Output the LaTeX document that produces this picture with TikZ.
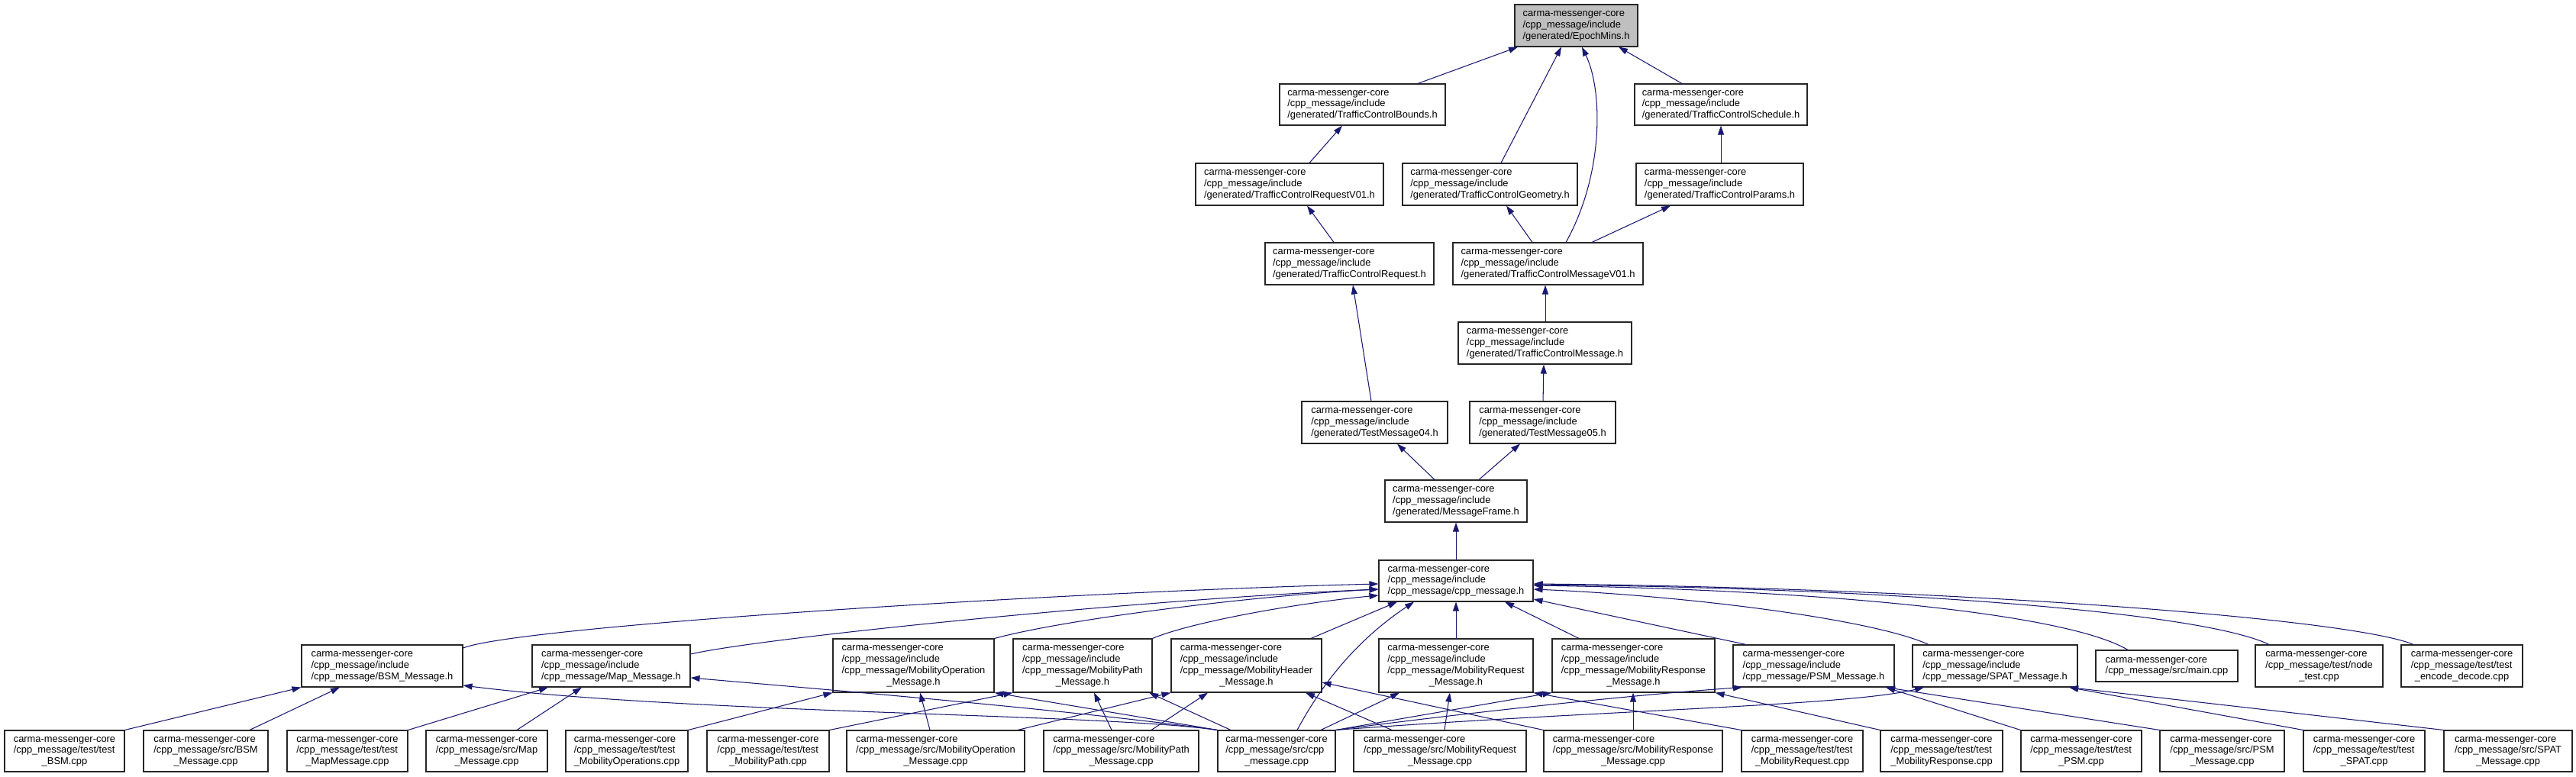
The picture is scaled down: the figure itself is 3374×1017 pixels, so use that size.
\documentclass[tikz,border=0pt]{standalone}
\usepackage{fontspec}
\setmainfont{Liberation Sans}
\usetikzlibrary{arrows.meta}
\definecolor{edgeblue}{HTML}{191970}
\definecolor{epfill}{HTML}{BFBFBF}
\newcommand{\cmc}{carma-messenger-core}
\newcommand{\Lthree}[3]{\begin{tabular}{@{}l@{}}#1\\#2\\\multicolumn{1}{@{}c@{}}{#3}\end{tabular}}
\newcommand{\Lfour}[4]{\begin{tabular}{@{}l@{}}#1\\#2\\#3\\\multicolumn{1}{@{}c@{}}{#4}\end{tabular}}
\newcommand{\Ltwo}[2]{\begin{tabular}{@{}l@{}}#1\\#2\end{tabular}}
\newcommand{\bx}[7][]{\node[box,#1,minimum width={#4-#3},minimum height={#6-#5}] (#2) at ({(#3+#4)/2},{(#5+#6)/2}) {#7};}
\begin{document}
\begin{tikzpicture}[x=1pt,y=-1pt,
  box/.style={draw=black!85,line width=1.1pt,inner sep=0pt,fill=white,
    font=\fontsize{12.9}{14.7}\selectfont},
  edge/.style={draw=edgeblue,line width=1.05pt,arrows={Triangle[length=12pt,width=8pt]-}}]
\useasboundingbox[fill=white] (0,0) rectangle (3374,1017);
% top part
\bx[fill=epfill]{ep}{1984}{2145}{6}{61}{\Lthree{\cmc}{/cpp\_message/include}{/generated/EpochMins.h}}
\bx{bounds}{1676}{1893}{110}{164}{\Lthree{\cmc}{/cpp\_message/include}{/generated/TrafficControlBounds.h}}
\bx{sched}{2141}{2367}{110}{164}{\Lthree{\cmc}{/cpp\_message/include}{/generated/TrafficControlSchedule.h}}
\bx{reqv01}{1566}{1812}{214}{269}{\Lthree{\cmc}{/cpp\_message/include}{/generated/TrafficControlRequestV01.h}}
\bx{geom}{1837}{2066}{214}{269}{\Lthree{\cmc}{/cpp\_message/include}{/generated/TrafficControlGeometry.h}}
\bx{params}{2143}{2362}{214}{269}{\Lthree{\cmc}{/cpp\_message/include}{/generated/TrafficControlParams.h}}
\bx{req}{1657}{1878}{318}{373}{\Lthree{\cmc}{/cpp\_message/include}{/generated/TrafficControlRequest.h}}
\bx{msgv01}{1903}{2152}{318}{373}{\Lthree{\cmc}{/cpp\_message/include}{/generated/TrafficControlMessageV01.h}}
\bx{tcmsg}{1910}{2137}{422}{477}{\Lthree{\cmc}{/cpp\_message/include}{/generated/TrafficControlMessage.h}}
\bx{tm04}{1705}{1896}{526}{581}{\Lthree{\cmc}{/cpp\_message/include}{/generated/TestMessage04.h}}
\bx{tm05}{1925}{2116}{526}{581}{\Lthree{\cmc}{/cpp\_message/include}{/generated/TestMessage05.h}}
\bx{frame}{1814}{2000}{629}{684}{\Lthree{\cmc}{/cpp\_message/include}{/generated/MessageFrame.h}}
\bx{cpph}{1806}{2008}{734}{788}{\Lthree{\cmc}{/cpp\_message/include}{/cpp\_message/cpp\_message.h}}
% headers row
\bx{bsm}{395}{606}{845}{900}{\Lthree{\cmc}{/cpp\_message/include}{/cpp\_message/BSM\_Message.h}}
\bx{map}{697}{904}{845}{900}{\Lthree{\cmc}{/cpp\_message/include}{/cpp\_message/Map\_Message.h}}
\bx{mop}{1091}{1302}{837}{907}{\Lfour{\cmc}{/cpp\_message/include}{/cpp\_message/MobilityOperation}{\_Message.h}}
\bx{mpath}{1327}{1509}{837}{907}{\Lfour{\cmc}{/cpp\_message/include}{/cpp\_message/MobilityPath}{\_Message.h}}
\bx{mhead}{1534}{1731}{837}{907}{\Lfour{\cmc}{/cpp\_message/include}{/cpp\_message/MobilityHeader}{\_Message.h}}
\bx{mreq}{1806}{2008}{837}{907}{\Lfour{\cmc}{/cpp\_message/include}{/cpp\_message/MobilityRequest}{\_Message.h}}
\bx{mresp}{2033}{2246}{837}{907}{\Lfour{\cmc}{/cpp\_message/include}{/cpp\_message/MobilityResponse}{\_Message.h}}
\bx{psm}{2270}{2481}{845}{900}{\Lthree{\cmc}{/cpp\_message/include}{/cpp\_message/PSM\_Message.h}}
\bx{spat}{2505}{2721}{845}{900}{\Lthree{\cmc}{/cpp\_message/include}{/cpp\_message/SPAT\_Message.h}}
\bx{main}{2745}{2931}{852}{893}{\Ltwo{\cmc}{/cpp\_message/src/main.cpp}}
\bx{nodet}{2954}{3121}{845}{900}{\Lthree{\cmc}{/cpp\_message/test/node}{\_test.cpp}}
\bx{encdec}{3145}{3304}{845}{900}{\Lthree{\cmc}{/cpp\_message/test/test}{\_encode\_decode.cpp}}
% bottom row
\bx{tbsm}{6}{163}{957}{1011}{\Lthree{\cmc}{/cpp\_message/test/test}{\_BSM.cpp}}
\bx{sbsm}{188}{351}{957}{1011}{\Lthree{\cmc}{/cpp\_message/src/BSM}{\_Message.cpp}}
\bx{tmap}{376}{534}{957}{1011}{\Lthree{\cmc}{/cpp\_message/test/test}{\_MapMessage.cpp}}
\bx{smap}{558}{717}{957}{1011}{\Lthree{\cmc}{/cpp\_message/src/Map}{\_Message.cpp}}
\bx{tmop}{741}{901}{957}{1011}{\Lthree{\cmc}{/cpp\_message/test/test}{\_MobilityOperations.cpp}}
\bx{tmpath}{926}{1086}{957}{1011}{\Lthree{\cmc}{/cpp\_message/test/test}{\_MobilityPath.cpp}}
\bx{smop}{1109}{1342}{957}{1011}{\Lthree{\cmc}{/cpp\_message/src/MobilityOperation}{\_Message.cpp}}
\bx{smpath}{1367}{1570}{957}{1011}{\Lthree{\cmc}{/cpp\_message/src/MobilityPath}{\_Message.cpp}}
\bx{scpp}{1595}{1749}{957}{1011}{\Lthree{\cmc}{/cpp\_message/src/cpp}{\_message.cpp}}
\bx{smreq}{1773}{1999}{957}{1011}{\Lthree{\cmc}{/cpp\_message/src/MobilityRequest}{\_Message.cpp}}
\bx{smresp}{2022}{2256}{957}{1011}{\Lthree{\cmc}{/cpp\_message/src/MobilityResponse}{\_Message.cpp}}
\bx{tmreq}{2281}{2440}{957}{1011}{\Lthree{\cmc}{/cpp\_message/test/test}{\_MobilityRequest.cpp}}
\bx{tmresp}{2463}{2623}{957}{1011}{\Lthree{\cmc}{/cpp\_message/test/test}{\_MobilityResponse.cpp}}
\bx{tpsm}{2647}{2805}{957}{1011}{\Lthree{\cmc}{/cpp\_message/test/test}{\_PSM.cpp}}
\bx{spsm}{2829}{2992}{957}{1011}{\Lthree{\cmc}{/cpp\_message/src/PSM}{\_Message.cpp}}
\bx{tspat}{3017}{3176}{957}{1011}{\Lthree{\cmc}{/cpp\_message/test/test}{\_SPAT.cpp}}
\bx{sspat}{3201}{3369}{957}{1011}{\Lthree{\cmc}{/cpp\_message/src/SPAT}{\_Message.cpp}}
% edges: top
\draw[edge] (1988,0 |- ep.south) -- (1857,0 |- bounds.north);
\draw[edge] (2045,0 |- ep.south) -- (1966,0 |- geom.north);
\draw[edge] (2072,0 |- ep.south) .. controls (2100,120) and (2100,230) .. (2051,0 |- msgv01.north);
\draw[edge] (2120,0 |- ep.south) -- (2203,0 |- sched.north);
\draw[edge] (1758,0 |- bounds.south) -- (1715,0 |- reqv01.north);
\draw[edge] (2254,0 |- sched.south) -- (2254,0 |- params.north);
\draw[edge] (1712,0 |- reqv01.south) -- (1747,0 |- req.north);
\draw[edge] (1973,0 |- geom.south) -- (2007,0 |- msgv01.north);
\draw[edge] (2188,0 |- params.south) -- (2085,0 |- msgv01.north);
\draw[edge] (1772,0 |- req.south) -- (1796,0 |- tm04.north);
\draw[edge] (2024,0 |- msgv01.south) -- (2024,0 |- tcmsg.north);
\draw[edge] (2022,0 |- tcmsg.south) -- (2021,0 |- tm05.north);
\draw[edge] (1830,0 |- tm04.south) -- (1879,0 |- frame.north);
\draw[edge] (1991,0 |- tm05.south) -- (1937,0 |- frame.north);
\draw[edge] (frame.south) -- (cpph.north);
% edges into cpp_message.h
\draw[edge] (cpph.west |- 0,765) .. controls (1400,775) and (680,820) .. (bsm.east |- 0,849);
\draw[edge] (cpph.west |- 0,772) .. controls (1500,785) and (1000,835) .. (map.east |- 0,857);
\draw[edge] (cpph.west |- 0,772) .. controls (1650,780) and (1400,810) .. (mop.north east);
\draw[edge] (cpph.west |- 0,780) .. controls (1700,790) and (1560,815) .. (mpath.north east);
\draw[edge] (1830,0 |- cpph.south) -- (1717,0 |- mhead.north);
\draw[edge] (1852,0 |- cpph.south) .. controls (1790,830) and (1740,880) .. (1699,0 |- scpp.north);
\draw[edge] (cpph.south) -- (mreq.north);
\draw[edge] (1971,0 |- cpph.south) -- (2068,0 |- mresp.north);
\draw[edge] (cpph.east |- 0,785) -- (2287,0 |- psm.north);
\draw[edge] (cpph.east |- 0,772) .. controls (2200,780) and (2450,810) .. (2526,0 |- spat.north);
\draw[edge] (cpph.east |- 0,767) .. controls (2350,772) and (2700,800) .. (2787,0 |- main.north);
\draw[edge] (cpph.east |- 0,766) .. controls (2450,770) and (2880,800) .. (2972,0 |- nodet.north);
\draw[edge] (cpph.east |- 0,765) .. controls (2550,770) and (3080,810) .. (3161,0 |- encdec.north);
% edges into header row
\draw[edge] (bsm.south west) -- (tbsm.north east);
\draw[edge] (445,0 |- bsm.south) -- (327,0 |- sbsm.north);
\draw[edge] (bsm.east |- 0,898) .. controls (900,935) and (1450,935) .. (scpp.north west);
\draw[edge] (718,0 |- map.south) -- (tmap.north east);
\draw[edge] (762,0 |- map.south) -- (677,0 |- smap.north);
\draw[edge] (map.east |- 0,888) .. controls (1100,905) and (1400,930) .. (scpp.north west);
\draw[edge] (mop.south west) -- (tmop.north east);
\draw[edge] (1205,0 |- mop.south) -- (1218,0 |- smop.north);
\draw[edge] (mop.south east) -- (scpp.north west);
\draw[edge] (mpath.south west) -- (tmpath.north east);
\draw[edge] (1433,0 |- mpath.south) -- (1456,0 |- smpath.north);
\draw[edge] (1505,0 |- mpath.south) -- (1612,0 |- scpp.north);
\draw[edge] (mhead.south west) -- (1333,0 |- smop.north);
\draw[edge] (1582,0 |- mhead.south) -- (1508,0 |- smpath.north);
\draw[edge] (1710,0 |- mhead.south) -- (1823,0 |- smreq.north);
\draw[edge] (mhead.east |- 0,894) -- (smresp.north west);
\draw[edge] (1833,0 |- mreq.south) -- (1730,0 |- scpp.north);
\draw[edge] (1899,0 |- mreq.south) -- (1892,0 |- smreq.north);
\draw[edge] (mreq.south east) -- (tmreq.north west);
\draw[edge] (mresp.south west) -- (scpp.north east);
\draw[edge] (2139,0 |- mresp.south) -- (2139,0 |- smresp.north);
\draw[edge] (mresp.south east) -- (tmresp.north west);
\draw[edge] (2282,0 |- psm.south) .. controls (2100,913) and (1850,943) .. (scpp.north east);
\draw[edge] (2520,0 |- spat.south) .. controls (2420,925) and (2100,930) .. (scpp.north east);
\draw[edge] (2470,0 |- psm.south) -- (tpsm.north west);
\draw[edge] (2470,0 |- psm.south) -- (spsm.north west);
\draw[edge] (2710,0 |- spat.south) -- (tspat.north west);
\draw[edge] (2710,0 |- spat.south) -- (sspat.north west);
\end{tikzpicture}
\end{document}
